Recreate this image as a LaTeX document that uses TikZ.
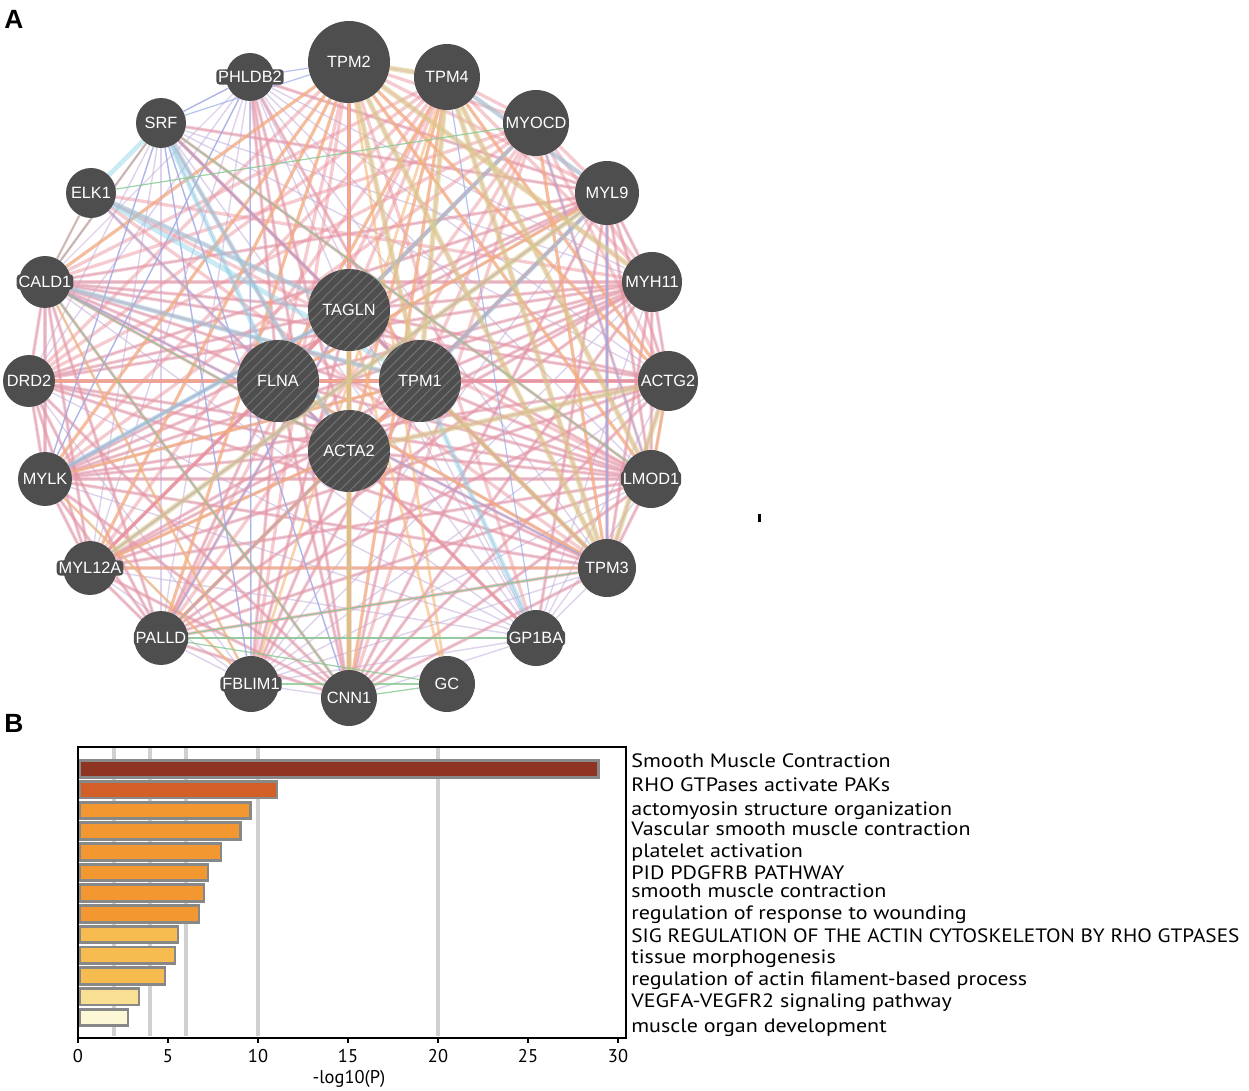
\documentclass[tikz,border=0pt]{standalone}
\usepackage{fontspec}
\usepackage{graphicx}
\setmainfont{Liberation Sans}
\newfontfamily\barfont[FakeStretch=1.14]{PT Sans}
\newfontfamily\tickfont{PT Sans}
\usetikzlibrary{patterns.meta}
\pgfdeclarelayer{background}
\pgfsetlayers{background,main}
\definecolor{nodegray}{HTML}{4E4E4E}
\definecolor{hatchgray}{HTML}{727272}
\definecolor{cphys}{HTML}{EA929D}
\definecolor{ccoexp}{HTML}{C2AEDA}
\definecolor{cpred}{HTML}{F5B574}
\definecolor{ccoloc}{HTML}{98AAE8}
\definecolor{cpathw}{HTML}{8CD2E6}
\definecolor{cgenet}{HTML}{86C98F}
\definecolor{cdomain}{HTML}{D8D28A}
\definecolor{gridgray}{HTML}{D0D0D0}
\definecolor{barborder}{HTML}{888888}
\definecolor{bA}{HTML}{8F3423}
\definecolor{bB}{HTML}{D35F28}
\definecolor{bC}{HTML}{F39831}
\definecolor{bD}{HTML}{F6BC50}
\definecolor{bE}{HTML}{F8DF93}
\definecolor{bF}{HTML}{FCF8D6}
\newcommand{\edgeset}[2]{%
  \foreach \ea [count=\ei] in {#2}{%
    \foreach \eb [count=\ej] in {#2}{%
      \ifnum\ej>\ei\relax \draw[#1] (\ea) -- (\eb);\fi}}}
\tikzset{
  gene/.style={circle, fill=nodegray, minimum size=#1*0.04cm, inner sep=0pt,
    text=white, font=\fontsize{9.3}{10}\selectfont},
  glab/.style={fill=nodegray, rounded corners=2pt, inner sep=1.1pt,
    text=white, font=\fontsize{9.3}{10}\selectfont},
  hub/.style={gene=#1, postaction={pattern={Lines[angle=45,distance=4.2pt,line width=0.6pt]}, pattern color=hatchgray}},
  ephys/.style={draw=cphys, line width=1.9pt, opacity=0.48, line cap=round},
  ecoexp/.style={draw=ccoexp, line width=0.8pt, opacity=0.55},
  epred/.style={draw=cpred, line width=1.5pt, opacity=0.6},
  ecoloc/.style={draw=ccoloc, line width=0.7pt, opacity=0.7},
  epath/.style={draw=cpathw, line width=2.8pt, opacity=0.45},
  egen/.style={draw=cgenet, line width=0.7pt, opacity=0.8},
  edom/.style={draw=cdomain, line width=3.2pt, opacity=0.5},
  barlab/.style={anchor=base west, inner sep=0pt, font=\barfont\fontsize{11}{12}\selectfont},
  ticklab/.style={inner sep=0pt, font=\tickfont\fontsize{10.5}{12}\selectfont},
  panel/.style={inner sep=0pt, font=\bfseries\fontsize{15}{16}\selectfont}
}
\begin{document}
\begin{tikzpicture}[x=0.02cm,y=-0.02cm]
\useasboundingbox (0,0) rectangle (1249,1091);
% panel letters
\node[panel] (pA) at (14,19) {A};
\node[panel] (pB) at (14,723) {B};
% ---------- network nodes ----------
\node[gene=41] (TPM2) at (349,62) {TPM2};
\node[gene=33] (TPM4) at (447,77) {TPM4};
\node[gene=33] (MYOCD) at (536,123) {};
\node[gene=32] (MYL9) at (607,193) {MYL9};
\node[gene=30] (MYH11) at (652,282) {};
\node[gene=30] (ACTG2) at (668,381) {};
\node[gene=29] (LMOD1) at (651,479) {};
\node[gene=29] (TPM3) at (607,568) {TPM3};
\node[gene=28] (GP1BA) at (536,638) {};
\node[gene=28] (GC) at (447,684) {GC};
\node[gene=28] (CNN1) at (349,698) {CNN1};
\node[gene=28] (FBLIM1) at (251,684) {};
\node[gene=27] (PALLD) at (161,638) {};
\node[gene=27] (MYL12A) at (90,568) {};
\node[gene=27] (MYLK) at (45,479) {MYLK};
\node[gene=26] (DRD2) at (29,381) {};
\node[gene=26] (CALD1) at (45,282) {};
\node[gene=25] (ELK1) at (91,193) {ELK1};
\node[gene=25] (SRF) at (161,123) {SRF};
\node[gene=24] (PHLDB2) at (250,77) {};
\node[hub=41] (TAGLN) at (349,310) {TAGLN};
\node[hub=41] (FLNA) at (278,381) {FLNA};
\node[hub=41] (TPM1) at (420,381) {TPM1};
\node[hub=41] (ACTA2) at (349,451) {ACTA2};
% labels that run past their circles
\foreach \gn in {MYOCD,MYH11,ACTG2,LMOD1,GP1BA,FBLIM1,PALLD,MYL12A,DRD2,CALD1,PHLDB2}
  {\node[glab] (\gn-t) at (\gn) {\gn};}
% ---------- network edges ----------
\begin{pgfonlayer}{background}
\edgeset{ecoexp}{CNN1,PALLD,FBLIM1,MYL12A,MYLK,CALD1,MYH11,ACTG2,LMOD1,MYL9,TPM3,GP1BA,SRF,PHLDB2,TAGLN,ACTA2,TPM1,FLNA,DRD2}
\edgeset{ephys}{TAGLN,FLNA,TPM1,ACTA2,TPM2,TPM4,MYL9,MYH11,ACTG2,LMOD1,TPM3,CALD1,MYLK,MYL12A,CNN1,DRD2,PALLD,MYOCD}
\foreach \ea/\eb in {FBLIM1/FLNA,FBLIM1/TAGLN,FBLIM1/ACTA2,FBLIM1/TPM2,FBLIM1/TPM1,GP1BA/FLNA,GP1BA/TPM2,GP1BA/MYL9,GP1BA/ACTA2,PHLDB2/FLNA,PHLDB2/ACTA2,PHLDB2/TPM1,PHLDB2/CNN1,PHLDB2/MYL9,SRF/ACTA2,SRF/TAGLN,SRF/MYL9,SRF/TPM3,SRF/LMOD1,ELK1/TPM3,ELK1/LMOD1,ELK1/TAGLN,ELK1/FLNA,ELK1/MYH11}
  {\draw[ephys] (\ea) -- (\eb);}
\foreach \ea/\eb in {TPM2/MYLK,TPM2/MYL12A,TPM2/CALD1,TPM2/PALLD,TPM4/FLNA,TPM4/ACTA2,TPM2/CNN1,CALD1/FBLIM1,ACTA2/PALLD,ACTA2/MYL12A,ACTG2/LMOD1,ACTG2/TPM4,ACTG2/TPM2,MYL9/FLNA,SRF/CALD1,ELK1/CALD1,MYLK/FBLIM1,MYL12A/TPM3,CNN1/TPM4,GC/TAGLN,FBLIM1/TPM4,TPM1/MYLK,TPM3/FLNA,LMOD1/TPM2,TPM3/MYOCD,DRD2/TPM1,PALLD/TPM1,GC/TPM2}
  {\draw[epred] (\ea) -- (\eb);}
\foreach \ea/\eb in {SRF/PHLDB2,SRF/TPM2,SRF/TPM1,SRF/CNN1,SRF/MYLK,SRF/CALD1,SRF/FBLIM1,ELK1/CALD1,ELK1/ACTA2,PHLDB2/TPM2,PHLDB2/MYLK,PHLDB2/FBLIM1,PALLD/ACTA2,MYL9/TPM3,MYLK/TAGLN,CALD1/TPM3,MYL12A/MYL9,PALLD/TAGLN,GP1BA/TPM4,MYOCD/LMOD1}
  {\draw[ecoloc] (\ea) -- (\eb);}
\foreach \ea/\eb in {SRF/FLNA,SRF/ACTA2,ELK1/TPM1,ELK1/SRF,TPM1/GP1BA,MYL9/TPM1,MYOCD/TAGLN,MYLK/TAGLN,CALD1/TPM1,TPM4/MYL9,ELK1/TAGLN}
  {\draw[epath] (\ea) -- (\eb);}
\foreach \ea/\eb in {TPM2/TPM3,TPM4/TPM3,TPM2/TPM4,TPM1/TPM3,TPM2/TPM1,TPM4/TPM1,ACTA2/ACTG2,MYL9/MYL12A,CNN1/TAGLN,TPM4/LMOD1,TPM2/MYH11,TPM3/ACTG2}
  {\draw[edom] (\ea) -- (\eb);}
\foreach \ea/\eb in {GC/CNN1,GC/PALLD,PALLD/TPM3,PALLD/GP1BA,CALD1/CNN1,SRF/LMOD1,CALD1/ACTA2,GC/FBLIM1,ELK1/MYOCD}
  {\draw[egen] (\ea) -- (\eb);}
\end{pgfonlayer}
% tiny mark
\fill (758,514) rectangle (760.5,522);
% ---------- bar chart ----------
\foreach \gv in {2,4,6,10,20}
  {\draw[gridgray, line width=2.3pt] ({78+18*\gv},748) -- ({78+18*\gv},1036);}
\foreach \bv/\bc [count=\bk] in {28.9/bA,11.06/bB,9.6/bC,9.05/bC,7.94/bC,7.22/bC,7.0/bC,6.72/bC,5.56/bD,5.39/bD,4.83/bD,3.39/bE,2.78/bF}
  {\pgfmathsetmacro\yc{769+20.7*(\bk-1)}
   \draw[fill=\bc, draw=barborder, line width=1.6pt] (79.5,\yc-8.3) rectangle ({78+18*\bv},\yc+8.3);}
\draw[line width=1.2pt] (78,747) rectangle (626,1038);
\foreach \tv in {0,5,...,30}
  {\draw[line width=1pt] ({78+18*\tv},1038) -- ({78+18*\tv},1043);
   \node[ticklab] (t\tv) at ({78+18*\tv},1056) {\tv};}
\node[ticklab] (xl) at (349,1079) {-log10(P)};
\foreach \tt/\ty [count=\tk] in {Smooth Muscle Contraction/767,RHO GTPases activate PAKs/791,actomyosin structure organization/815,Vascular smooth muscle contraction/835,platelet activation/857,PID PDGFRB PATHWAY/879,smooth muscle contraction/897,regulation of response to wounding/919,tissue morphogenesis/963,regulation of actin filament-based process/985,VEGFA-VEGFR2 signaling pathway/1007,muscle organ development/1032}
  {\node[barlab] (l\tk) at (631,\ty) {\tt};}
\node[barlab] (lsig) at (631,942) {\scalebox{0.965}[1]{SIG REGULATION OF THE ACTIN CYTOSKELETON BY RHO GTPASES}};
\end{tikzpicture}
\end{document}
